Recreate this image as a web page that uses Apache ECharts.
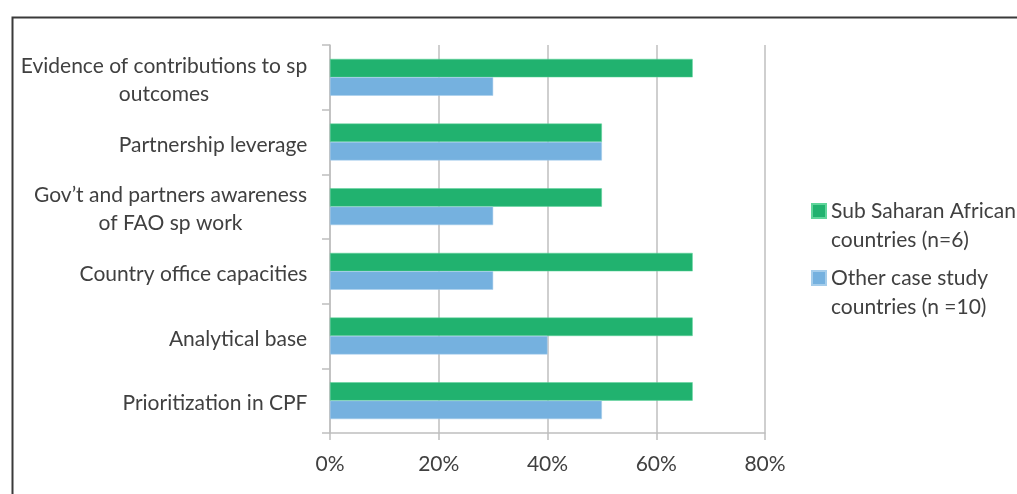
<!DOCTYPE html>
<html><head><meta charset="utf-8">
<script src="https://cdn.jsdelivr.net/npm/echarts@6/dist/echarts.min.js"></script>
<style>html,body{margin:0;padding:0;background:#fff}#c{width:1017px;height:494px}</style>
</head><body><div id="c"></div>
<script>
const categories = ['Evidence of contributions to sp\noutcomes', 'Partnership leverage', 'Gov\u2019t and partners awareness\nof FAO sp work', 'Country office capacities', 'Analytical base', 'Prioritization in CPF'];
const seriesNames = ['Sub Saharan African\ncountries (n=6)', 'Other case study\ncountries (n =10)'];
const ssaValues = [66.7, 50, 50, 66.7, 66.7, 66.7];
const otherValues = [30, 50, 30, 30, 40, 50];
const xTicks = [0, 20, 40, 60, 80];

const FONT = 'Lato';
const FS = 21;
const TXT = '#404040';

const ctx = document.createElement('canvas').getContext('2d');
ctx.font = FS + 'px ' + FONT;
const rich = {};
categories.forEach((c, i) => {
  const w = Math.max(...c.split('\n').map(l => ctx.measureText(l).width));
  rich['r' + i] = { width: Math.ceil(w) + 1, align: 'center', fontFamily: FONT, fontSize: FS, color: TXT, lineHeight: 28 };
});

const chart = echarts.init(document.getElementById('c'), null, { renderer: 'canvas' });
chart.setOption({
  animation: false,
  textStyle: { fontFamily: FONT },
  graphic: [{
    type: 'rect', left: 10, top: 15, shape: { width: 1200, height: 700 },
    style: { fill: 'none', stroke: '#3a3a3a', lineWidth: 2 }, silent: true
  }],
  grid: { left: 330, right: 252, top: 45, bottom: 61, containLabel: false },
  legend: {
    orient: 'vertical', left: 806, top: 191, itemGap: 7,
    itemWidth: 14, itemHeight: 58,
    icon: 'path://M0,0M0,7L14,7L14,21L0,21Z M0,58',
    textStyle: { fontFamily: FONT, fontSize: FS, color: TXT, lineHeight: 29 },
    data: [{ name: seriesNames[0] }, { name: seriesNames[1] }]
  },
  xAxis: {
    type: 'value', min: 0, max: xTicks[xTicks.length - 1], interval: xTicks[1] - xTicks[0],
    axisLine: { show: true, lineStyle: { color: '#bfbfbf', width: 1.5 } },
    axisTick: { show: true, length: 7, lineStyle: { color: '#bfbfbf', width: 1.5 } },
    splitLine: { show: true, lineStyle: { color: '#bfbfbf', width: 1.5 } },
    axisLabel: { formatter: v => v + '%', fontFamily: FONT, fontSize: FS, color: TXT, margin: 21 }
  },
  yAxis: {
    type: 'category', data: categories, inverse: true,
    axisLine: { show: true, lineStyle: { color: '#bfbfbf', width: 1.5 } },
    axisTick: { show: true, length: 8, lineStyle: { color: '#bfbfbf', width: 1.5 } },
    axisLabel: {
      margin: 22, fontFamily: FONT, fontSize: FS, color: TXT, padding: [6, 0, 0, 0],
      formatter: (v, i) => v.split('\n').map(l => '{r' + i + '|' + l + '}').join('\n'),
      rich: rich
    }
  },
  series: [
    { name: seriesNames[0], type: 'bar', data: ssaValues, barGap: '0%', barCategoryGap: '43%',
      itemStyle: { color: '#21B26F', borderColor: '#5fd59a', borderWidth: 0.5 } },
    { name: seriesNames[1], type: 'bar', data: otherValues, barGap: '0%', barCategoryGap: '43%',
      itemStyle: { color: '#75B1DF', borderColor: '#a5cdeb', borderWidth: 0.5 } }
  ]
});
</script></body></html>
